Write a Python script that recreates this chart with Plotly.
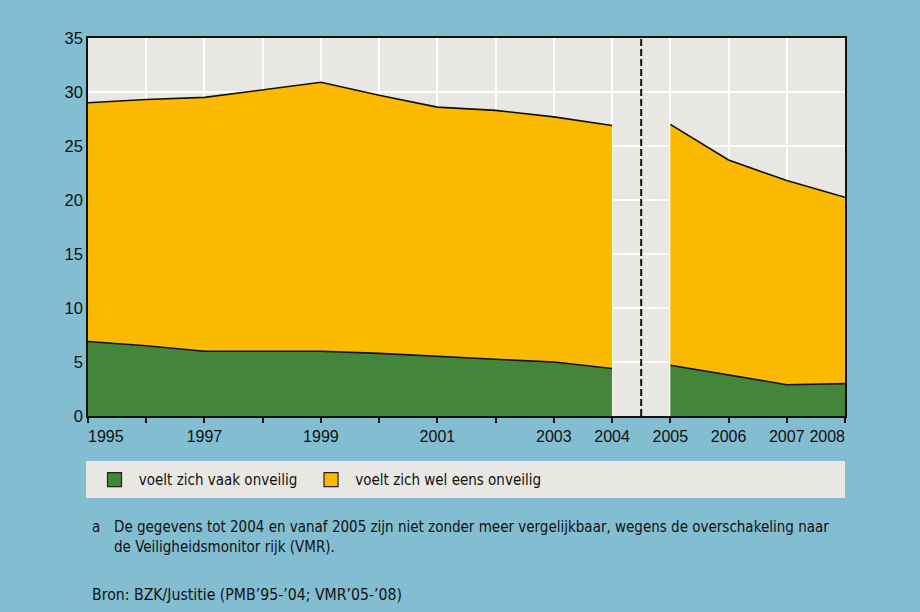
import plotly.graph_objects as go

# ---- data ----
years_a = [1995, 1996, 1997, 1998, 1999, 2000, 2001, 2002, 2003, 2004]
vaak_a = [6.9, 6.5, 6.0, 6.0, 6.0, 5.8, 5.5, 5.25, 5.0, 4.4]
wel_eens_a = [22.1, 22.8, 23.5, 24.2, 24.9, 23.9, 23.1, 23.05, 22.7, 22.5]

years_b = [2005, 2006, 2007, 2008]
vaak_b = [4.7, 3.8, 2.9, 3.0]
wel_eens_b = [22.3, 19.9, 18.9, 17.25]

tick_years = [1995, 1996, 1997, 1998, 1999, 2000, 2001, 2002, 2003, 2004, 2005, 2006, 2007, 2008]
tick_labels = ["1995", "", "1997", "", "1999", "", "2001", "", "2003", "2004", "2005", "2006", "2007", "2008"]

name_vaak = "voelt zich vaak onveilig"
name_wel = "voelt zich wel eens onveilig"
footnote = ("De gegevens tot 2004 en vanaf 2005 zijn niet zonder meer vergelijkbaar, wegens de overschakeling naar"
            "<br>de Veiligheidsmonitor rijk (VMR).")
source = "Bron: BZK/Justitie (PMB’95-’04; VMR’05-’08)"

# ---- styles ----
GREEN = "#43853a"
YELLOW = "#fbb900"
BLUE = "#83bdd1"
PLOTBG = "#e8e7e3"
CONDF = "DejaVu Sans Condensed"
REG = "Liberation Sans, Arial, sans-serif"

# nbsp padding to keep end labels inside the plot width
pad = "\u00a0" * 8
tick_text = list(tick_labels)
tick_text[0] = pad + tick_text[0]
tick_text[-1] = tick_text[-1] + pad

fig = go.Figure()
for grp, xs, v, w in [("a", years_a, vaak_a, wel_eens_a), ("b", years_b, vaak_b, wel_eens_b)]:
    fig.add_trace(go.Scatter(x=xs, y=v, stackgroup=grp, mode="lines",
                             line=dict(color="#111111", width=1.6), fillcolor=GREEN,
                             name=name_vaak, legendgroup="vaak", showlegend=False))
    fig.add_trace(go.Scatter(x=xs, y=w, stackgroup=grp, mode="lines",
                             line=dict(color="#111111", width=1.6), fillcolor=YELLOW,
                             name=name_wel, legendgroup="wel", showlegend=False))

# legend entries (one legend box each, so they sit where the reference puts them)
fig.add_trace(go.Scatter(x=[None], y=[None], mode="markers", name="\u00a0" + name_vaak,
                         legendgroup="vaak", legend="legend",
                         marker=dict(symbol="square", size=14, color=GREEN, line=dict(color="#222", width=1.2))))
fig.add_trace(go.Scatter(x=[None], y=[None], mode="markers", name="\u00a0" + name_wel,
                         legendgroup="wel", legend="legend2",
                         marker=dict(symbol="square", size=14, color=YELLOW, line=dict(color="#222", width=1.2))))

# break between the two series
brk = (years_a[-1] + years_b[0]) / 2
fig.add_shape(type="line", xref="x", yref="paper", x0=brk, x1=brk, y0=0, y1=1,
              line=dict(color="#111111", width=2, dash="7px,3px"), layer="above")

# legend background band
fig.add_shape(type="rect", xref="paper", yref="paper", x0=-0.0026, x1=1.0, y0=-0.2169, y1=-0.119,
              fillcolor=PLOTBG, line=dict(width=0), layer="below")

fig.add_annotation(xref="paper", yref="paper", x=0.0026, y=-0.2937, xanchor="left", yanchor="middle",
                   text="a", showarrow=False, font=dict(family=CONDF, size=15, color="#111"))
fig.add_annotation(xref="paper", yref="paper", x=0.0317, y=-0.3214, xanchor="left", yanchor="middle",
                   align="left", text=footnote, showarrow=False,
                   font=dict(family=CONDF, size=15, color="#111"))
fig.add_annotation(xref="paper", yref="paper", x=0.0026, y=-0.4735, xanchor="left", yanchor="middle",
                   text=source, showarrow=False, font=dict(family=CONDF, size=15.7, color="#111"))

legend_common = dict(orientation="h", y=-0.169, yanchor="middle", xanchor="left",
                     bgcolor="rgba(0,0,0,0)", font=dict(family=CONDF, size=15, color="#111"))

fig.update_layout(
    width=920, height=612,
    margin=dict(l=88, r=75, t=38, b=196),
    paper_bgcolor=BLUE, plot_bgcolor=PLOTBG,
    showlegend=True,
    legend=dict(x=0.0086, **legend_common),
    legend2=dict(x=0.2946, **legend_common),
    xaxis=dict(range=[1995, 2008], tickmode="array", tickvals=tick_years, ticktext=tick_text,
               tickangle=0, showgrid=True, gridcolor="white", gridwidth=1.5,
               ticks="outside", ticklen=5, tickwidth=1.5, tickcolor="#111",
               showline=True, linecolor="#111", linewidth=1.5, mirror=True, zeroline=False,
               tickfont=dict(family=REG, size=16, color="#111")),
    yaxis=dict(range=[0, 35], tickmode="linear", tick0=0, dtick=5,
               showgrid=True, gridcolor="white", gridwidth=1.5, ticks="",
               showline=True, linecolor="#111", linewidth=1.5, mirror=True, zeroline=False,
               tickfont=dict(family=REG, size=16.5, color="#111")),
)

fig.write_html("out.html", config={"displayModeBar": False},
               post_script="document.body.style.margin='0';")
